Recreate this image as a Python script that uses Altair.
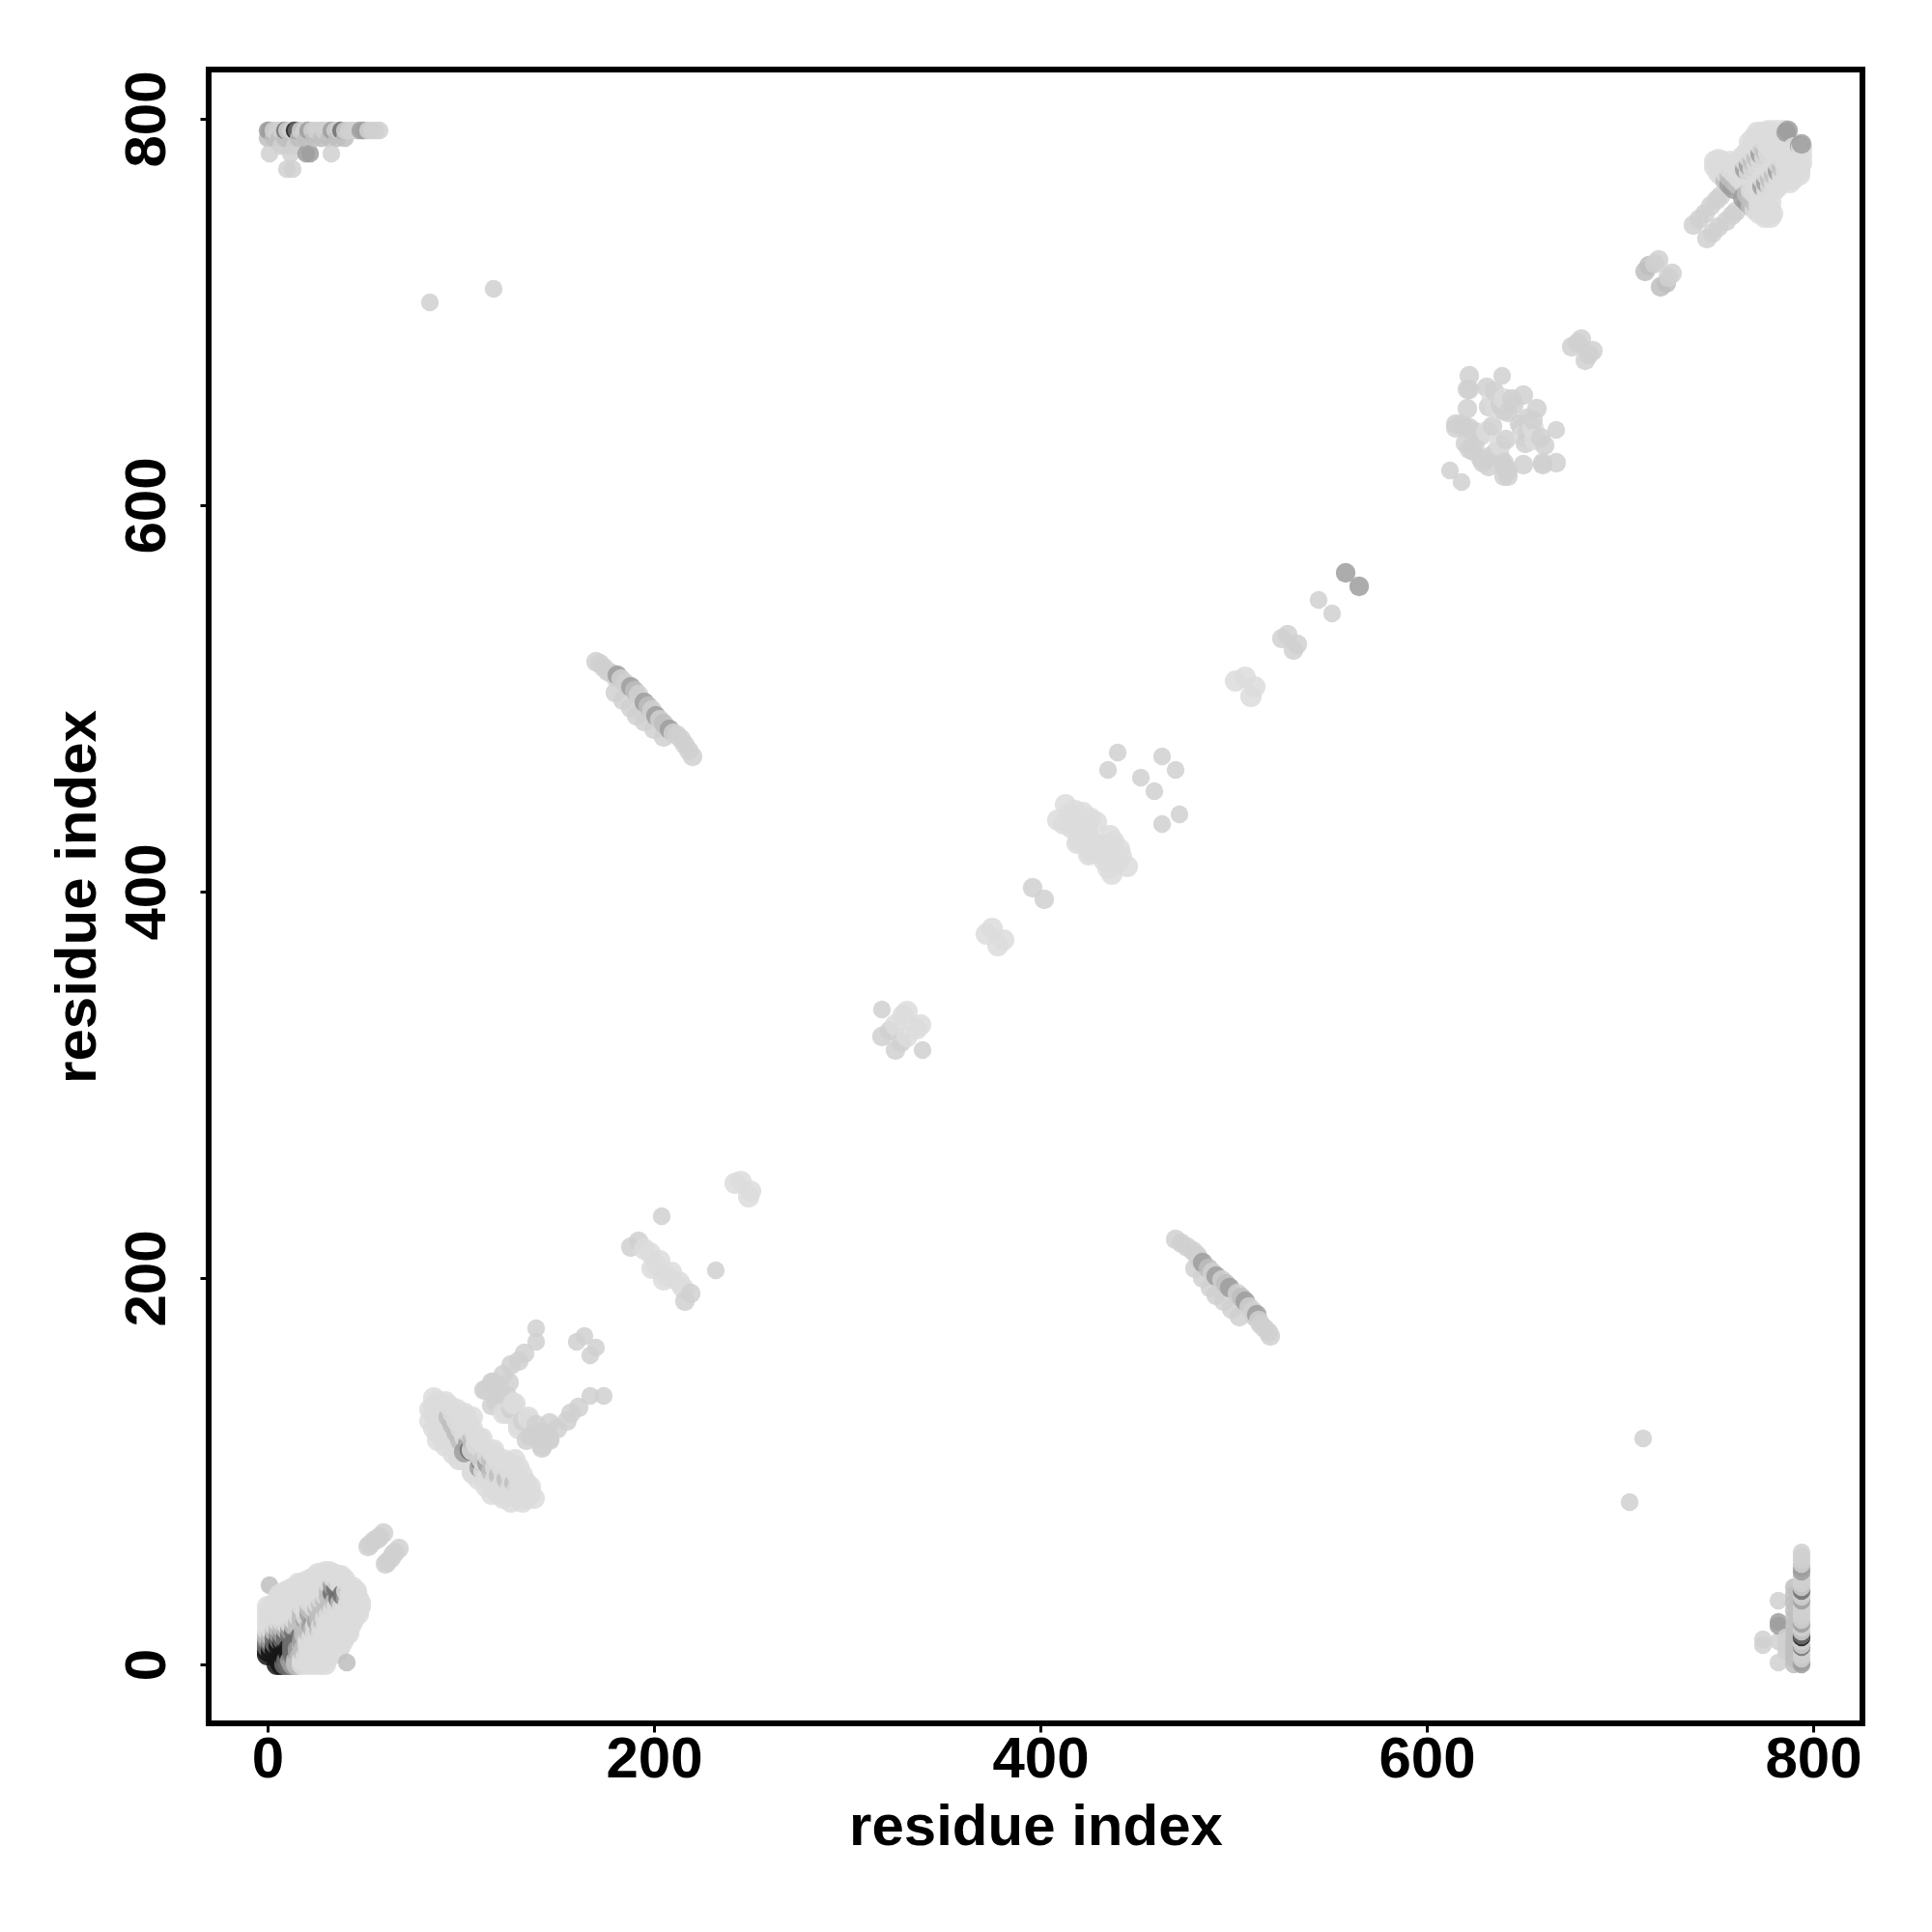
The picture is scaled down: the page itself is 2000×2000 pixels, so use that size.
import altair as alt
import pandas as pd

TICKS = [0, 200, 400, 600, 800]

# contacts, upper triangle only: first residue -> partner residues
near_origin = {
    0: [5, 7, 9, 11, 13, 15, 18, 21, 24, 27, 30],
    2: [6, 8, 10, 12, 15, 18, 21, 24, 27, 30],
    4: [7, 9, 11, 14, 17, 20, 23, 26, 29, 32],
    6: [9, 11, 13, 16, 19, 22, 25, 28, 31, 34, 36],
    8: [11, 13, 16, 19, 22, 25, 28, 31, 34, 37],
    10: [13, 15, 18, 21, 24, 27, 30, 33, 36, 38],
    12: [15, 18, 21, 24, 27, 30, 33, 36, 39],
    14: [17, 20, 23, 26, 29, 32, 35, 38, 40],
    16: [19, 22, 25, 28, 31, 34, 37, 40, 42],
    18: [21, 24, 27, 30, 33, 36, 39, 42],
    20: [23, 25, 28, 31, 34, 37, 40, 43],
    22: [26, 29, 32, 35, 38, 41, 44],
    24: [27, 30, 33, 36, 39, 42, 45],
    26: [29, 32, 35, 38, 41, 44, 47],
    28: [31, 34, 37, 40, 44, 47],
    30: [33, 36, 39, 42, 46, 48],
    32: [35, 38, 42, 46, 48],
    34: [37, 41, 45, 47],
    36: [39, 43, 46],
    38: [41, 45, 46],
    40: [44],
}
ring_row_794 = [0, 1, 3, 5, 7, 9, 10, 12, 14, 15, 17, 19, 21, 23, 25, 27, 29, 31, 33, 35, 37, 38, 40, 42, 44, 46, 48, 50, 52, 54, 56, 58]
ring_row_790 = [0, 3, 6, 9, 12, 16, 20, 24, 28, 32, 36, 40]
ring_extra = [(1, 782), (1, 41), (7, 786), (9, 786), (12, 782), (14, 786), (20, 782), (22, 782), (33, 782), (10, 774), (13, 774)]

band_110 = {
    84: [126, 132], 86: [138, 134, 130, 122], 88: [136, 131, 126, 120, 116], 90: [134, 129, 124, 118],
    92: [136, 131, 126, 121, 113], 94: [134, 128, 122, 116], 96: [130, 124, 118, 109],
    98: [132, 126, 120, 114], 100: [128, 122, 116, 112, 106], 102: [130, 124, 118, 110],
    104: [126, 120, 114], 106: [128, 122, 116, 111], 108: [118, 114], 110: [116],
    99: [106], 105: [111], 111: [117],
}
tail_cluster = {
    749: [775, 778], 751: [772, 776, 779], 753: [770, 774, 778], 755: [768, 772, 776],
    757: [766, 770, 774, 778], 759: [764, 768, 772, 776], 761: [766, 770, 774],
    763: [768, 772, 776, 780], 765: [770, 774, 778, 782], 767: [772, 776, 780, 784, 788],
    769: [774, 778, 782, 786, 790], 771: [776, 780, 784, 788, 793], 773: [778, 782, 786, 790, 793],
    775: [780, 784, 788, 793], 777: [782, 786, 790, 794], 779: [784, 788, 792],
    781: [786, 790, 794], 783: [788, 792], 785: [790, 794],
}
# pale, wide contacts outside the big clusters
wide_pairs = [
    (242, 249), (245, 250), (195, 215), (198, 213), (199, 205), (203, 209), (201, 207),
    (372, 378), (375, 381), (329, 336), (331, 338), (325, 331),
    (409, 437), (413, 445), (415, 440), (412, 435), (418, 442), (422, 441), (426, 438), (429, 436),
    (420, 430), (424, 434), (422, 427), (419, 425), (420, 426), (425, 429), (416, 433),
    (501, 509), (506, 511), (127, 135), (128, 135), (124, 130), (122, 130),
    (631, 638), (640, 655), (634, 656), (636, 650),
]
# medium contacts
medium_pairs = [
    (133, 161), (130, 157), (126, 155), (122, 150), (117, 146), (113, 142),
    (125, 146), (120, 143), (120, 140), (116, 146), (112, 142), (126, 132), (124, 139), (118, 136), (116, 134),
    (52, 61), (53, 62), (55, 64), (57, 65), (58, 66), (60, 68),
    (188, 216), (192, 219), (396, 402), (318, 325), (322, 328),
    (525, 531), (528, 533), (558, 565),
    (622, 667), (621, 660), (631, 661), (650, 657), (645, 652), (621, 650),
    (615, 642), (624, 628), (622, 629), (620, 640), (615, 640),
    (642, 648), (638, 652), (622, 640), (618, 642), (625, 632), (628, 636), (625, 638),
    (620, 632), (622, 660), (635, 659), (632, 651), (640, 649), (644, 655), (634, 641),
    (675, 682), (678, 684), (680, 686),
    (713, 721), (715, 724), (718, 725), (720, 727),
    (738, 745), (741, 748), (744, 751), (747, 755), (750, 758), (752, 760), (786, 793), (787, 794),
]
anti_strand = [(170, 519), (172, 518), (174, 516), (176, 514), (178, 513), (180, 511), (181, 512), (183, 510),
               (185, 508), (188, 506), (190, 504), (192, 502), (195, 498), (197, 496), (199, 494), (201, 491),
               (203, 489), (205, 487), (208, 484), (210, 482), (212, 481), (214, 479), (216, 476), (218, 473),
               (220, 470), (180, 503), (184, 499), (188, 495), (191, 491), (195, 488), (200, 484), (205, 480)]
# narrow contacts
narrow_pairs = [
    (139, 174), (139, 167), (160, 167), (164, 170), (204, 232), (84, 705), (117, 712), (318, 339),
    (440, 472), (435, 463), (463, 470), (452, 459), (544, 551), (612, 618), (639, 667),
]

# shade of a contact, 0 = palest, 1 = black; contacts not listed are palest
shade_black = [(0, 5), (0, 7), (2, 6), (2, 8), (4, 7), (4, 9), (6, 9), (6, 11), (8, 11), (14, 794)]
shade_dark = [(0, 9), (2, 10), (4, 11), (8, 13), (10, 13), (6, 13), (0, 11), (12, 15), (15, 794), (9, 794),
              (38, 794), (34, 37), (36, 39), (105, 111), (10, 15), (14, 17), (4, 14)]
shade_mid = [(0, 13), (2, 12), (6, 16), (8, 16), (12, 18), (20, 23), (22, 26), (34, 41),
             (48, 794), (33, 794), (0, 794), (1, 794), (21, 794), (50, 794), (558, 565),
             (759, 764), (757, 766), (786, 793), (787, 794), (181, 512), (188, 506), (195, 498), (201, 491),
             (208, 484), (102, 110), (104, 114), (773, 782), (20, 782), (22, 782), (765, 774), (767, 776)]
shade_soft = [(100, 116), (98, 120), (96, 124), (94, 128), (106, 116), (769, 778), (761, 766), (755, 768),
              (713, 721), (715, 724), (190, 504), (197, 496), (205, 487), (26, 29), (30, 33), (28, 31), (0, 15),
              (2, 15), (4, 17), (6, 19), (8, 19), (10, 18), (16, 19), (18, 21), (22, 29), (18, 27), (14, 20),
              (24, 27), (18, 24), (16, 22), (32, 35), (32, 38),
              (0, 790), (3, 790), (6, 790), (9, 790), (12, 790), (16, 790), (20, 790), (24, 790), (28, 790),
              (32, 790), (36, 790), (40, 790), (1, 41), (757, 770), (759, 768), (771, 780), (775, 784)]

big, mid, small = [], [], []
for rows in (near_origin, band_110, tail_cluster):
    for a, partners in rows.items():
        big += [(a, b) for b in partners]
big += wide_pairs
mid += medium_pairs + anti_strand
small += narrow_pairs + ring_extra
small += [(a, 794) for a in ring_row_794] + [(a, 790) for a in ring_row_790]

shades = {}
for level, group in ((0.08, shade_soft), (0.22, shade_mid), (0.45, shade_dark), (0.9, shade_black)):
    for p in group:
        shades[p] = level

rows = []
for tier, group in ((3, big), (2, mid), (1, small)):
    for a, b in dict.fromkeys(group):
        s = shades.get((a, b), -0.1 if tier == 3 else 0.0)
        rows.append({"i": a, "j": b, "shade": s, "tier": tier})
        rows.append({"i": b, "j": a, "shade": s, "tier": tier})
df = pd.DataFrame(rows).sort_values(["i", "j"]).reset_index(drop=True)

DOMAIN = [-30.5, 825.5]
FONT = "Liberation Sans"

x_axis = alt.Axis(values=TICKS, title="residue index", grid=False, domain=False, tickColor="black", tickSize=9,
                  tickWidth=3, labelFont=FONT, labelFontWeight="bold", labelFontSize=60, labelColor="black",
                  labelPadding=46, labelBaseline="alphabetic", labelFlush=False, labelOverlap=False,
                  titleFont=FONT, titleFontWeight="bold", titleFontSize=60, titleColor="black",
                  titleX=856, titleY=125, titleBaseline="alphabetic", titleAnchor="middle")
y_axis = alt.Axis(values=TICKS, title="residue index", grid=False, domain=False, tickColor="black", tickSize=9,
                  tickWidth=3, labelFont=FONT, labelFontWeight="bold", labelFontSize=60, labelColor="black",
                  labelPadding=37, labelAngle=270, labelAlign="center", labelBaseline="alphabetic",
                  labelFlush=False, labelOverlap=False,
                  titleFont=FONT, titleFontWeight="bold", titleFontSize=60, titleColor="black",
                  titleX=-118, titleY=856, titleBaseline="alphabetic", titleAnchor="middle")

chart = (
    alt.Chart(df)
    .mark_circle(opacity=0.85)
    .encode(
        x=alt.X("i:Q", scale=alt.Scale(domain=DOMAIN, nice=False, zero=False), axis=x_axis),
        y=alt.Y("j:Q", scale=alt.Scale(domain=DOMAIN, nice=False, zero=False), axis=y_axis),
        color=alt.Color("shade:Q", scale=alt.Scale(domain=[-0.1, 0, 1], range=["#dcdcdc", "#d0d0d0", "#000000"]), legend=None),
        size=alt.Size("tier:O", scale=alt.Scale(domain=[1, 2, 3], range=[340, 490, 640]), legend=None),
    )
    .properties(width=1712, height=1712, background="white",
                padding={"left": 208, "top": 64, "right": 40, "bottom": 170},
                autosize=alt.AutoSizeParams(type="none"))
    .configure_view(stroke="black", strokeWidth=6)
)
chart.save("out.html", embed_options={"renderer": "svg", "actions": False})
